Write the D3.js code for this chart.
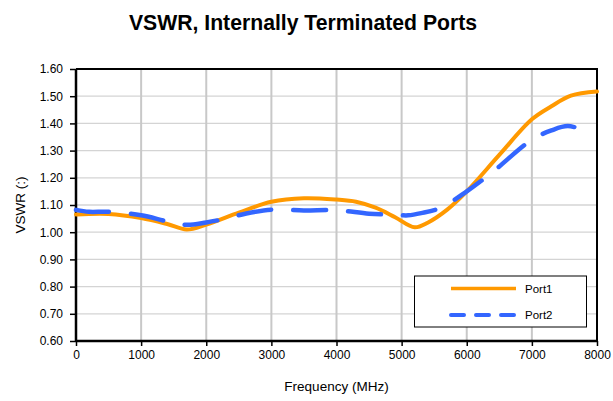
<!DOCTYPE html>
<html>
<head>
<meta charset="utf-8">
<script src="https://cdn.jsdelivr.net/npm/d3@7"></script>
<style>
html,body{margin:0;padding:0;background:#fff;}
svg{display:block;font-family:"Liberation Sans",Arial,sans-serif;}
</style>
</head>
<body>
<svg id="chart" width="613" height="401"></svg>
<script>
const title = "VSWR, Internally Terminated Ports";
const xLabel = "Frequency (MHz)";
const yLabel = "VSWR (:)";
const xTicks = [0,1000,2000,3000,4000,5000,6000,7000,8000];
const yTicks = [0.6,0.7,0.8,0.9,1.0,1.1,1.2,1.3,1.4,1.5,1.6];

const port1Freq = [0,500,1000,1400,1700,2000,2500,3000,3500,4000,4300,4600,4900,5200,5400,5700,6000,6500,7000,7300,7600,8000];
const port1Vswr = [1.065,1.067,1.052,1.030,1.010,1.028,1.072,1.112,1.125,1.120,1.112,1.090,1.055,1.018,1.035,1.083,1.150,1.284,1.415,1.463,1.502,1.517];

const port2Freq = [0,200,500,1000,1400,1700,2000,2300,2600,3000,3500,4000,4500,4900,5100,5300,5600,6000,6400,7000,7300,7550,7850];
const port2Vswr = [1.082,1.075,1.075,1.062,1.040,1.027,1.036,1.050,1.068,1.083,1.080,1.081,1.068,1.064,1.062,1.070,1.090,1.150,1.222,1.340,1.374,1.390,1.372];

const seriesNames = ["Port1","Port2"];
const seriesColors = ["#FF9900","#3366FF"];

const svg = d3.select("#chart");
const m = {left:76, right:597, top:69, bottom:341};
const x = d3.scaleLinear().domain([0,8000]).range([m.left,m.right]);
const y = d3.scaleLinear().domain([0.6,1.6]).range([m.bottom,m.top]);

// title
svg.append("text").attr("x",303).attr("y",30).attr("text-anchor","middle")
  .attr("font-size",21.2).attr("font-weight","bold").text(title);

// gridlines
svg.append("g").selectAll("line").data(yTicks).join("line")
  .attr("x1",m.left).attr("x2",m.right).attr("y1",d=>y(d)).attr("y2",d=>y(d))
  .attr("stroke","#d4d4d4").attr("stroke-width",1.3);
svg.append("g").selectAll("line").data(xTicks).join("line")
  .attr("y1",m.top).attr("y2",m.bottom).attr("x1",d=>x(d)).attr("x2",d=>x(d))
  .attr("stroke","#c8c8c8").attr("stroke-width",2);

// plot border (top/right)
svg.append("path").attr("d",`M${m.left},${m.top}H${m.right}V${m.bottom}`)
  .attr("fill","none").attr("stroke","#000").attr("stroke-width",2);

// axes
const yAxis = d3.axisLeft(y).tickValues(yTicks).tickFormat(d3.format(".2f")).tickSize(6).tickPadding(7);
const xAxis = d3.axisBottom(x).tickValues(xTicks).tickFormat(d3.format("d")).tickSize(5).tickPadding(4);
const gy = svg.append("g").attr("transform",`translate(${m.left},0)`).call(yAxis);
const gx = svg.append("g").attr("transform",`translate(0,${m.bottom})`).call(xAxis);
[gx,gy].forEach(g=>{
  g.select(".domain").attr("stroke","#000").attr("stroke-width",2.5);
  g.selectAll(".tick line").attr("stroke","#000").attr("stroke-width",1.5);
  g.selectAll(".tick text").attr("fill","#000").attr("font-size",12).attr("font-family","Liberation Sans, Arial, sans-serif");
});
gx.select(".domain").attr("d",`M${m.left},0H${m.right}`);
gy.select(".domain").attr("d",`M0,${m.bottom}V${m.top}`);

// axis labels
svg.append("text").attr("x",(m.left+m.right)/2).attr("y",391).attr("text-anchor","middle")
  .attr("font-size",13.5).text(xLabel);
svg.append("text").attr("transform",`translate(25,${(m.top+m.bottom)/2}) rotate(-90)`)
  .attr("text-anchor","middle").attr("font-size",13.5).text(yLabel);

// lines
const line = d3.line().x(d=>x(d[0])).y(d=>y(d[1])).curve(d3.curveCatmullRom.alpha(0.5));
const d1 = port1Freq.map((f,i)=>[f,port1Vswr[i]]);
const d2 = port2Freq.map((f,i)=>[f,port2Vswr[i]]);
svg.append("path").attr("d",line(d1)).attr("fill","none").attr("stroke",seriesColors[0])
  .attr("stroke-width",4).attr("stroke-linejoin","round").attr("stroke-linecap","round");
svg.append("path").attr("d",line(d2)).attr("fill","none").attr("stroke",seriesColors[1])
  .attr("stroke-width",4.5).attr("stroke-linecap","round").attr("stroke-dasharray","33,22");

// legend
const lg = svg.append("g");
lg.append("rect").attr("x",414.5).attr("y",276).attr("width",172).attr("height",51)
  .attr("fill","#fff").attr("stroke","#000").attr("stroke-width",1);
const ly = [288.5,315];
seriesNames.forEach((n,i)=>{
  lg.append("line").attr("x1",451).attr("x2",516).attr("y1",ly[i]).attr("y2",ly[i])
    .attr("stroke",seriesColors[i]).attr("stroke-width",i?4:3.5).attr("stroke-linecap",i?"round":"butt")
    .attr("stroke-dasharray",i?"13,12":null);
  lg.append("text").attr("x",525).attr("y",ly[i]+4).attr("font-size",11.5).text(n);
});
</script>
</body>
</html>
